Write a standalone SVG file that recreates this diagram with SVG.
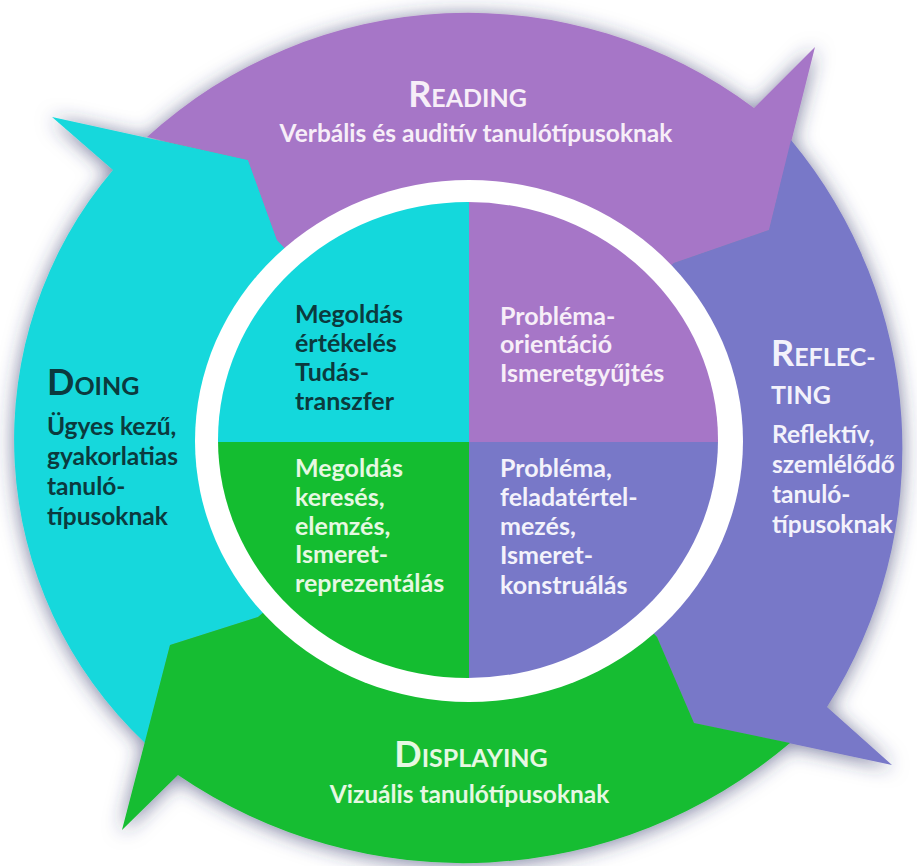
<svg xmlns="http://www.w3.org/2000/svg" width="917" height="866" viewBox="0 0 917 866">
<defs>
<filter id="glow" x="-10%" y="-10%" width="120%" height="120%">
<feGaussianBlur in="SourceAlpha" stdDeviation="10"/>
<feOffset dx="0" dy="2" result="b"/>
<feFlood flood-color="#2f3468" flood-opacity="0.65"/>
<feComposite in2="b" operator="in"/>
<feMerge><feMergeNode/><feMergeNode in="SourceGraphic"/></feMerge>
</filter>
<clipPath id="disc"><ellipse cx="468" cy="440" rx="250" ry="238"/></clipPath>
</defs>
<style>
text{font-family:Lato,"Open Sans","Liberation Sans",sans-serif;font-weight:700}
.big{font-size:36px}
.sc{font-size:25px}
.sub{font-size:24.5px}
.body{font-size:24.5px}
.inner{font-size:25px}
.dark{fill:#0b3a3e}
.lp{fill:#f7eef8}
.ll{fill:#f3f2fb}
.lg{fill:#e6f8e2}
</style>
<rect width="917" height="866" fill="#ffffff"/>
<g id="arrows" filter="url(#glow)">
<g id="doing-arrow"><path fill="#14d8dc" d="M468 440 L277 240 L248 160 L52 117 L113 170 A417 417 0 0 0 145 743 L170 645 L258 617 Z"/></g>
<g id="reading-arrow"><path fill="#a676c7" d="M468 440 L674 263 L769 230 L815 47 L754 108 A477 477 0 0 0 147 137 L248 160 L277 240 Z"/></g>
<g id="reflecting-arrow"><path fill="#7878c8" d="M468 440 L657 637 L694 723 L892 765 L827 707 A482 482 0 0 0 791 140 L769 230 L674 263 Z"/></g>
<g id="displaying-arrow"><path fill="#14bd30" d="M468 440 L258 617 L170 645 L122 830 L178 775 A505 505 0 0 0 790 743 L694 723 L657 637 Z"/></g>
</g>
<g id="center">
<ellipse cx="469" cy="441" rx="274" ry="261" fill="#ffffff"/>
<g clip-path="url(#disc)">
<rect x="200" y="190" width="269" height="252" fill="#14d8dc"/>
<rect x="469" y="190" width="270" height="252" fill="#a676c7"/>
<rect x="200" y="442" width="269" height="250" fill="#14bd30"/>
<rect x="469" y="442" width="270" height="250" fill="#7878c8"/>
</g>
</g>
<g id="reading">
<text x="467.5" y="107" text-anchor="middle" class="lp"><tspan class="big">R</tspan><tspan class="sc">EADING</tspan></text>
<text x="476" y="142" text-anchor="middle" class="sub lp">Verbális és auditív tanulótípusoknak</text>
</g>
<g id="doing">
<text x="47" y="395" class="dark"><tspan class="big">D</tspan><tspan class="sc">OING</tspan></text>
<text class="body dark"><tspan x="47" y="435">Ügyes kezű,</tspan><tspan x="47" y="465">gyakorlatias</tspan><tspan x="47" y="495">tanuló-</tspan><tspan x="47" y="525">típusoknak</tspan></text>
</g>
<g id="reflecting">
<text x="771" y="366" class="ll"><tspan class="big">R</tspan><tspan class="sc">EFLEC-</tspan></text>
<text x="771" y="404" class="sc ll">TING</text>
<text class="body ll"><tspan x="772" y="443">Reflektív,</tspan><tspan x="772" y="473">szemlélődő</tspan><tspan x="772" y="503">tanuló-</tspan><tspan x="772" y="533">típusoknak</tspan></text>
</g>
<g id="displaying">
<text x="471" y="767" text-anchor="middle" class="lg"><tspan class="big">D</tspan><tspan class="sc">ISPLAYING</tspan></text>
<text x="469.5" y="803" text-anchor="middle" class="sub lg">Vizuális tanulótípusoknak</text>
</g>
<g id="q-evaluation">
<text class="inner dark"><tspan x="295" y="323">Megoldás</tspan><tspan x="295" y="352">értékelés</tspan><tspan x="295" y="381">Tudás-</tspan><tspan x="295" y="410">transzfer</tspan></text>
</g>
<g id="q-orientation">
<text class="inner lp"><tspan x="500" y="325">Probléma-</tspan><tspan x="500" y="353">orientáció</tspan><tspan x="500" y="382">Ismeretgyűjtés</tspan></text>
</g>
<g id="q-search">
<text class="inner lg"><tspan x="295" y="477">Megoldás</tspan><tspan x="295" y="506">keresés,</tspan><tspan x="295" y="535">elemzés,</tspan><tspan x="295" y="563">Ismeret-</tspan><tspan x="295" y="592">reprezentálás</tspan></text>
</g>
<g id="q-construction">
<text class="inner ll"><tspan x="500" y="477">Probléma,</tspan><tspan x="500" y="506">feladatértel-</tspan><tspan x="500" y="535">mezés,</tspan><tspan x="500" y="564">Ismeret-</tspan><tspan x="500" y="594">konstruálás</tspan></text>
</g>
</svg>
